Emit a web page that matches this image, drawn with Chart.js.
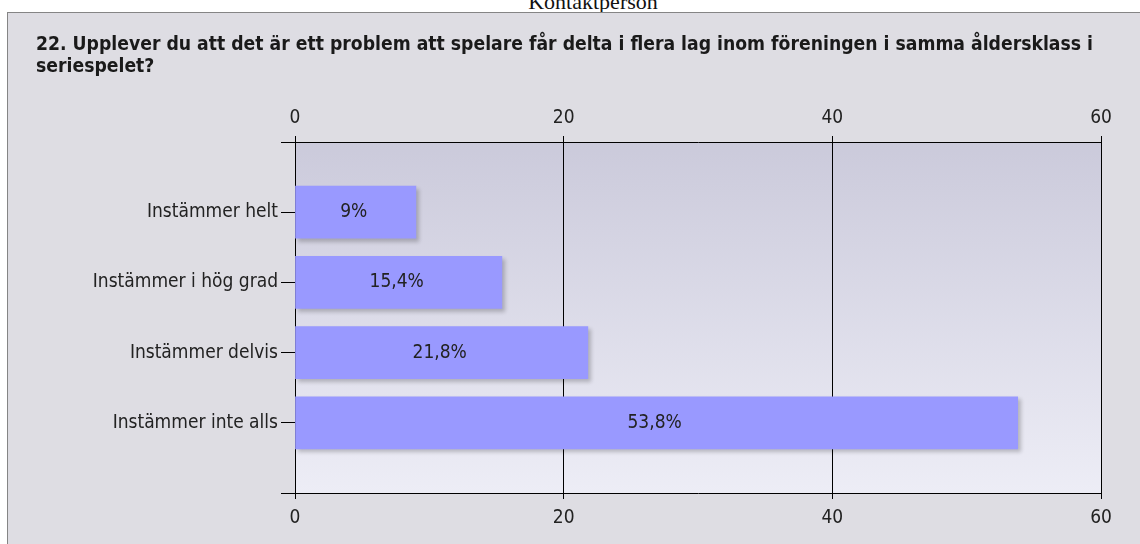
<!DOCTYPE html>
<html>
<head>
<meta charset="utf-8">
<script src="https://cdn.jsdelivr.net/npm/chart.js@4.4.1/dist/chart.umd.min.js"></script>
<style>
  html, body { margin: 0; padding: 0; background: #fff; width: 1140px; height: 544px; overflow: hidden; }
  #header {
    position: absolute; left: 0; width: 1186px; top: -11px;
    text-align: center; font-family: "Liberation Serif", serif; font-size: 22px; color: #111;
  }
  #panel {
    position: absolute; left: 7px; top: 12px; width: 1133px; height: 532px;
    background: #dedde3; border-left: 1px solid #858585; border-top: 1px solid #858585;
  }
  #title {
    position: absolute; left: 28px; top: 20px; white-space: nowrap;
    font-family: "DejaVu Sans Condensed", "DejaVu Sans", sans-serif; font-weight: bold;
    font-size: 19.2px; line-height: 22px; color: #1a1a1a;
  }
  #chartBox { position: absolute; left: 0; top: 0; width: 1132px; height: 531px; }
</style>
</head>
<body>
<div id="header">Kontaktperson</div>
<div id="panel">
  <div id="chartBox"><canvas id="barChart"></canvas></div>
  <div id="title">22. Upplever du att det är ett problem att spelare får delta i flera lag inom föreningen i samma åldersklass i<br>seriespelet?</div>
</div>
<script>
// answer options (empty slots at both ends keep the axis edges free)
const categories = ['', 'Instämmer helt', 'Instämmer i hög grad', 'Instämmer delvis', 'Instämmer inte alls', ''];
const percentages = [null, 9, 15.4, 21.8, 53.8, null];
const xTicks = [0, 20, 40, 60];

const FONT = '"DejaVu Sans Condensed", "DejaVu Sans", sans-serif';
const FONT_SIZE = 19;

// gradient behind the bars
const plotBackground = {
    id: 'plotBackground',
    beforeDraw(chart) {
        const { ctx, chartArea: a } = chart;
        const g = ctx.createLinearGradient(0, a.top, 0, a.bottom);
        g.addColorStop(0, '#cbcadb');
        g.addColorStop(1, '#ededf6');
        ctx.save();
        ctx.fillStyle = g;
        ctx.fillRect(a.left, a.top, a.right - a.left, a.bottom - a.top);
        ctx.restore();
    }
};

// soft drop shadow on the bars
const barShadow = {
    id: 'barShadow',
    beforeDatasetDraw(chart) {
        const ctx = chart.ctx;
        ctx.save();
        ctx.shadowColor = 'rgba(0,0,0,0.22)';
        ctx.shadowBlur = 4;
        ctx.shadowOffsetX = 3;
        ctx.shadowOffsetY = 3;
    },
    afterDatasetDraw(chart) {
        chart.ctx.restore();
    }
};

// percent text in the middle of each bar
const barLabels = {
    id: 'barLabels',
    afterDatasetsDraw(chart) {
        const ctx = chart.ctx;
        const meta = chart.getDatasetMeta(0);
        ctx.save();
        ctx.font = FONT_SIZE + 'px ' + FONT;
        ctx.fillStyle = '#222';
        ctx.textAlign = 'center';
        ctx.textBaseline = 'middle';
        meta.data.forEach((bar, i) => {
            const v = percentages[i];
            if (v === null) return;
            const text = String(v).replace('.', ',') + '%';
            ctx.fillText(text, (bar.base + bar.x) / 2 - 2, bar.y);
        });
        ctx.restore();
    }
};

const xTickOptions = {
    font: { family: FONT, size: FONT_SIZE },
    color: '#222',
    autoSkip: false,
    maxRotation: 0
};

new Chart(document.getElementById('barChart'), {
    type: 'bar',
    data: {
        labels: categories,
        datasets: [{
            data: percentages,
            backgroundColor: '#9999ff',
            borderWidth: 0,
            barThickness: 52
        }]
    },
    options: {
        indexAxis: 'y',
        responsive: true,
        maintainAspectRatio: false,
        animation: false,
        layout: { padding: { left: 0, right: 39, top: 0, bottom: 0 } },
        plugins: { legend: { display: false }, tooltip: { enabled: false } },
        scales: {
            x: {
                position: 'bottom',
                min: 0, max: 60,
                afterBuildTicks: s => { s.ticks = xTicks.map(v => ({ value: v })); },
                afterFit: s => { s.height = 51; },
                grid: { color: '#000', lineWidth: 1, tickLength: 6 },
                border: { color: '#000', width: 1 },
                ticks: { ...xTickOptions, padding: 8 }
            },
            x2: {
                position: 'top',
                axis: 'x',
                min: 0, max: 60,
                afterBuildTicks: s => { s.ticks = xTicks.map(v => ({ value: v })); },
                afterFit: s => { s.height = 129; },
                grid: { color: '#000', lineWidth: 1, tickLength: 6, drawOnChartArea: false },
                border: { color: '#000', width: 1 },
                ticks: { ...xTickOptions, padding: 7 }
            },
            y: {
                offset: false,
                afterFit: s => { s.width = 287; },
                grid: { color: '#000', lineWidth: 1, tickLength: 14, drawOnChartArea: false, offset: false },
                border: { color: '#000', width: 1 },
                ticks: {
                    font: { family: FONT, size: FONT_SIZE },
                    color: '#222',
                    padding: 3,
                    autoSkip: false
                }
            }
        }
    },
    plugins: [plotBackground, barShadow, barLabels]
});
</script>
</body>
</html>
